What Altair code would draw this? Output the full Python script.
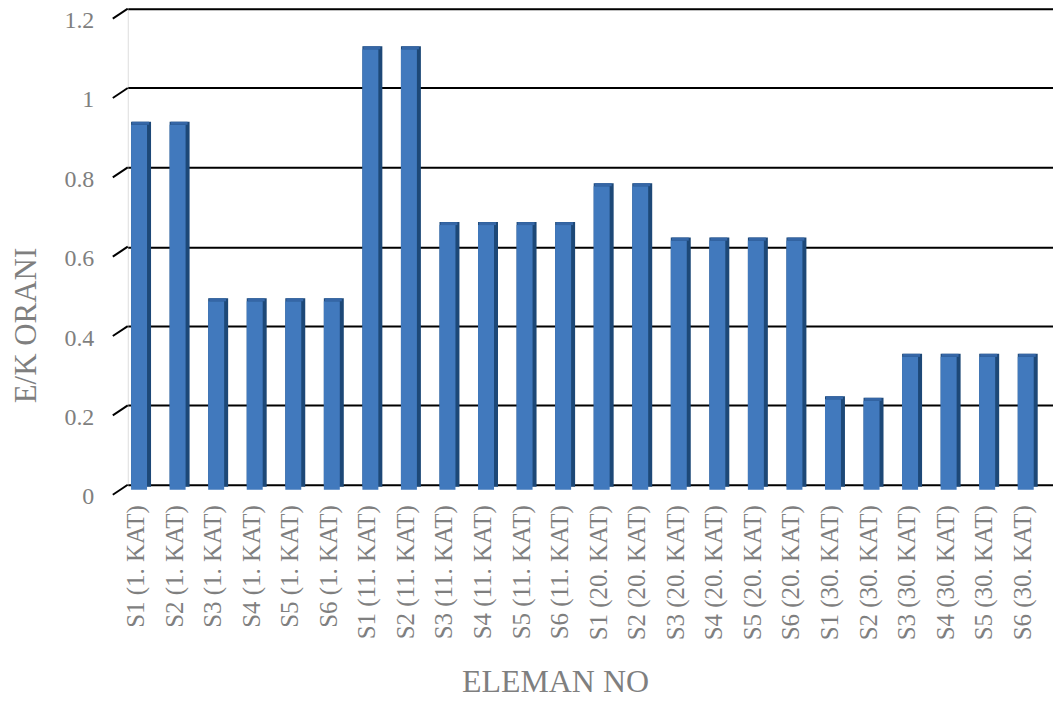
import altair as alt
import pandas as pd

elements = ["S1", "S2", "S3", "S4", "S5", "S6"]
stories = ["1. KAT", "11. KAT", "20. KAT", "30. KAT"]
categories = [f"{e} ({s})" for s in stories for e in elements]
values_1 = [0.92, 0.92, 0.475, 0.475, 0.475, 0.475]
values_11 = [1.11, 1.11, 0.667, 0.667, 0.667, 0.667]
values_20 = [0.765, 0.765, 0.628, 0.628, 0.628, 0.628]
values_30 = [0.228, 0.224, 0.335, 0.335, 0.335, 0.335]
values = values_1 + values_11 + values_20 + values_30
y_ticks = [0, 0.2, 0.4, 0.6, 0.8, 1.0, 1.2]

df = pd.DataFrame({"cat": categories, "val": values})
ticks_df = pd.DataFrame({"t": y_ticks})

FONT = "Liberation Serif"
GRAY = "#7f7f7f"

xscale = alt.Scale(domain=categories, paddingInner=0, paddingOuter=0)
yscale = alt.Scale(domain=[0, 1.2], nice=False, zero=True)

x_enc = alt.X(
    "cat:N",
    scale=xscale,
    sort=categories,
    axis=alt.Axis(
        title="ELEMAN NO",
        labelAngle=-90,
        labelAlign="right",
        labelBaseline="middle",
        labelPadding=20,
        labelOffset=-11,
        labelFont=FONT,
        labelFontSize=25,
        labelColor=GRAY,
        labelLimit=300,
        ticks=False,
        domain=False,
        grid=False,
        titleFont=FONT,
        titleFontSize=32,
        titleFontWeight="normal",
        titleColor=GRAY,
        titleX=428,
        titleY=207,
        titleBaseline="alphabetic",
        titleAlign="center",
        titleAnchor="start",
    ),
)

y_enc = alt.Y(
    "val:Q",
    scale=yscale,
    axis=alt.Axis(
        title="E/K ORANI",
        values=y_ticks,
        format="~g",
        grid=True,
        gridColor="#000000",
        gridWidth=2,
        domain=False,
        ticks=False,
        labelPadding=34,
        labelOffset=12,
        labelFont=FONT,
        labelFontSize=24,
        labelColor=GRAY,
        titleFont=FONT,
        titleFontSize=31,
        titleFontWeight="normal",
        titleColor=GRAY,
        titleX=-101,
        titleY=317,
        titleAngle=-90,
        titleBaseline="middle",
        titleAlign="center",
        titleAnchor="start",
    ),
)

base = alt.Chart(df)

side = base.mark_bar(size=20, xOffset=-6, yOffset=2, color="#1d4877").encode(
    x=x_enc, y=y_enc
)
front = base.mark_bar(size=16, xOffset=-8, yOffset=5, color="#4179bd").encode(
    x=alt.X("cat:N", scale=xscale, sort=categories),
    y=alt.Y("val:Q", scale=yscale),
)
cap = base.mark_bar(
    size=17, xOffset=-6.5, yOffset=2, y2Offset=5, color="#3566a6"
).encode(
    x=alt.X("cat:N", scale=xscale, sort=categories),
    y=alt.Y("val:Q", scale=yscale),
    y2="val:Q",
)

stubs = alt.Chart(ticks_df).mark_rule(
    color="#000000", strokeWidth=2, yOffset=10, y2Offset=0
).encode(
    x=alt.value(-15),
    x2=alt.value(0),
    y=alt.Y("t:Q", scale=yscale),
    y2="t:Q",
)

chart = (
    alt.layer(side, front, cap, stubs)
    .properties(
        width=927,
        height=477,
        autosize="none",
        padding={"left": 120, "top": 0, "right": 0, "bottom": 213},
    )
    .configure_view(stroke=None)
    .configure(background="white")
)

chart.save("out.html", embed_options={"renderer": "svg", "actions": False})
